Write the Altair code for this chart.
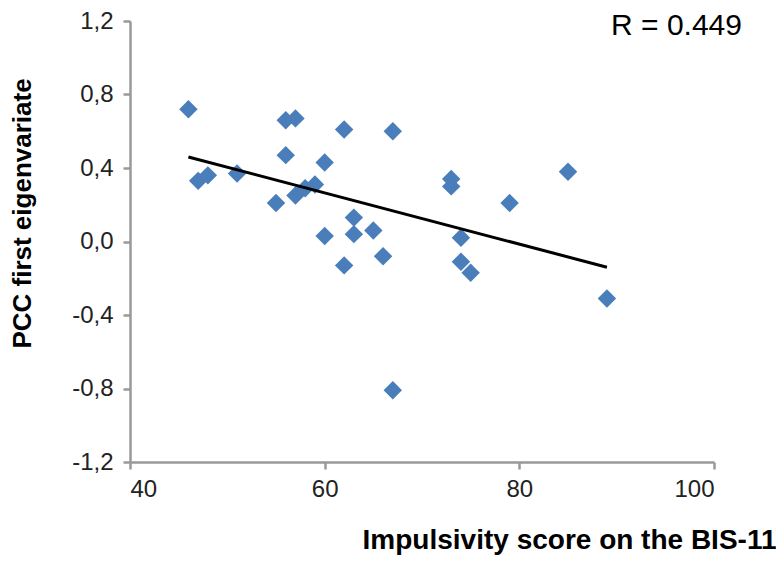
import altair as alt
import pandas as pd

# Impulsivity score (BIS-11) and PCC first eigenvariate
bis11 = [46, 47, 48, 51, 55, 56, 56, 57, 57, 58, 59, 60, 60, 62, 62, 63, 63,
         65, 66, 67, 67, 73, 73, 74, 74, 75, 79, 85, 89]
pcc = [0.72, 0.33, 0.36, 0.37, 0.21, 0.66, 0.47, 0.67, 0.25, 0.29, 0.31, 0.43,
       0.03, 0.61, -0.13, 0.13, 0.04, 0.06, -0.08, 0.60, -0.81, 0.34, 0.30,
       0.02, -0.11, -0.17, 0.21, 0.38, -0.31]

x_ticks = [40, 60, 80, 100]
y_ticks = [-1.2, -0.8, -0.4, 0.0, 0.4, 0.8, 1.2]
r_label = "R = 0.449"

df = pd.DataFrame({"bis": bis11, "pcc": pcc})

FONT = "Liberation Sans"
AXIS_COLOR = "#999999"

x_enc = alt.X(
    "bis:Q",
    scale=alt.Scale(domain=[40, 100], nice=False, zero=False),
    axis=alt.Axis(
        values=x_ticks,
        title="Impulsivity  score on the BIS-11",
        titleFont=FONT, titleFontSize=28, titleFontWeight="bold", titleColor="#000000",
        titleAlign="right", titleAnchor="end", titleX=646, titleY=86,
        titleBaseline="alphabetic",
        labelFont=FONT, labelFontSize=24, labelColor="#222222", labelPadding=8,
        domainColor=AXIS_COLOR, domainWidth=2.5, tickColor=AXIS_COLOR, tickWidth=2.5,
        tickSize=7, grid=False,
    ),
)
y_enc = alt.Y(
    "pcc:Q",
    scale=alt.Scale(domain=[-1.2, 1.2], nice=False, zero=False),
    axis=alt.Axis(
        values=y_ticks,
        labelExpr="replace(replace(format(datum.value, '.1f'), '.', ','), '\u2212', '-')",
        title="PCC first eigenvariate",
        titleFont=FONT, titleFontSize=26, titleFontWeight="bold", titleColor="#000000",
        titleAngle=270, titleAlign="center", titleBaseline="middle",
        titleX=-108, titleY=192,
        labelFont=FONT, labelFontSize=24, labelColor="#222222", labelPadding=10,
        domainColor=AXIS_COLOR, domainWidth=2.5, tickColor=AXIS_COLOR, tickWidth=2.5,
        tickSize=7, grid=False,
    ),
)

points = alt.Chart(df).mark_point(
    shape="diamond", filled=True, size=340, color="#4A7EBB", opacity=1
).encode(x=x_enc, y=y_enc)

line = alt.Chart(df).transform_regression(
    "bis", "pcc", extent=[46, 89]
).mark_line(color="#000000", strokeWidth=3).encode(x="bis:Q", y="pcc:Q")

label = alt.Chart(pd.DataFrame({"t": [r_label]})).mark_text(
    font=FONT, fontSize=30, align="right", baseline="middle", color="#000000"
).encode(text="t:N", x=alt.value(612), y=alt.value(5))

chart = alt.layer(points, line, label).properties(
    width=584, height=441,
    autosize=alt.AutoSizeParams(type="none"),
    padding={"left": 122, "top": 13, "right": 62, "bottom": 93},
).configure_view(stroke=None)

chart.save("out.html", embed_options={"renderer": "svg", "actions": False})
